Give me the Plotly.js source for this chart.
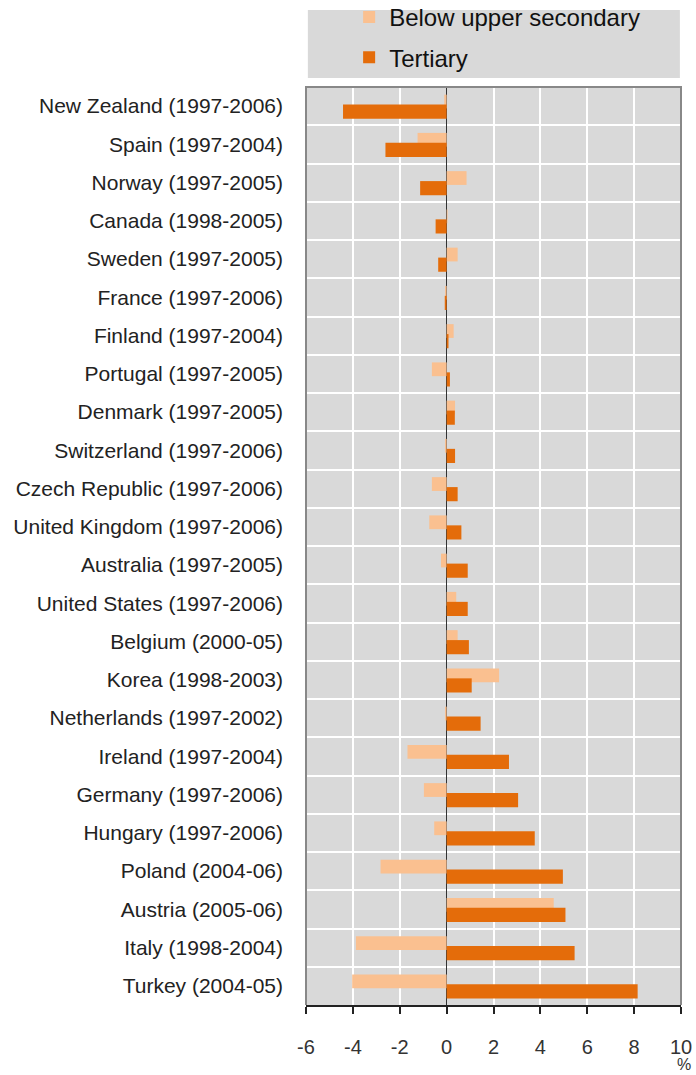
<!DOCTYPE html>
<html>
<head>
<meta charset="utf-8">
<script src="https://cdn.plot.ly/plotly-3.0.1.min.js"></script>
<style>
  html, body { margin: 0; padding: 0; background: #ffffff; }
  #chart { width: 696px; height: 1075px; }
</style>
</head>
<body>
<div id="chart"></div>
<script>
const categories = [
  "New Zealand (1997-2006)", "Spain (1997-2004)", "Norway (1997-2005)", "Canada (1998-2005)",
  "Sweden (1997-2005)", "France (1997-2006)", "Finland (1997-2004)", "Portugal (1997-2005)",
  "Denmark (1997-2005)", "Switzerland (1997-2006)", "Czech Republic (1997-2006)", "United Kingdom (1997-2006)",
  "Australia (1997-2005)", "United States (1997-2006)", "Belgium (2000-05)", "Korea (1998-2003)",
  "Netherlands (1997-2002)", "Ireland (1997-2004)", "Germany (1997-2006)", "Hungary (1997-2006)",
  "Poland (2004-06)", "Austria (2005-06)", "Italy (1998-2004)", "Turkey (2004-05)"
];
const belowUpperSecondary = [
  -0.10, -1.24, 0.85, 0.04, 0.47, -0.07, 0.30, -0.63,
  0.36, -0.07, -0.63, -0.74, -0.24, 0.41, 0.47, 2.24,
  -0.07, -1.67, -0.97, -0.53, -2.82, 4.57, -3.87, -4.03
];
const tertiary = [
  -4.42, -2.61, -1.13, -0.47, -0.36, -0.08, 0.08, 0.14,
  0.35, 0.36, 0.47, 0.63, 0.90, 0.90, 0.95, 1.07,
  1.45, 2.66, 3.05, 3.76, 4.96, 5.07, 5.46, 8.15
];
const xTicks = [-6, -4, -2, 0, 2, 4, 6, 8, 10];

const FONT = "Liberation Sans, Arial, sans-serif";

const traces = [
  {
    type: "bar", orientation: "h", name: "Below upper secondary",
    y: categories, x: belowUpperSecondary,
    offset: -0.30, width: 0.36,
    marker: { color: "#FAC090", line: { width: 0 } },
    legendgroup: "a"
  },
  {
    type: "bar", orientation: "h", name: "Tertiary",
    y: categories, x: tertiary,
    offset: -0.04, width: 0.37,
    marker: { color: "#E46C0A", line: { width: 0 } },
    legendgroup: "b"
  }
];

const layout = {
  width: 696, height: 1075,
  margin: { l: 306, r: 15, t: 87, b: 70, pad: 0, autoexpand: false },
  paper_bgcolor: "#ffffff",
  plot_bgcolor: "#D9D9D9",
  barmode: "overlay",
  font: { family: FONT, color: "#222222" },
  showlegend: true,
  legend: {
    x: 0.115, xanchor: "left",
    y: 1.1002, yanchor: "top",
    bgcolor: "rgba(0,0,0,0)",
    font: { family: FONT, size: 24, color: "#111111" },
    traceorder: "grouped",
    tracegroupgap: 6
  },
  xaxis: {
    range: [-6, 10],
    tickvals: xTicks,
    ticktext: xTicks.map(String),
    showgrid: true, gridcolor: "#ffffff", gridwidth: 2,
    zeroline: true, zerolinecolor: "#333333", zerolinewidth: 1.5,
    showline: true, linecolor: "#222222", linewidth: 2,
    ticks: "outside", ticklen: 7, tickwidth: 2, tickcolor: "#222222",
    ticklabelstandoff: 16,
    tickfont: { family: FONT, size: 20, color: "#333333" },
    fixedrange: true
  },
  yaxis: {
    type: "category",
    autorange: "reversed",
    tickson: "boundaries",
    showgrid: true, gridcolor: "#ffffff", gridwidth: 2,
    showline: false, zeroline: false,
    ticks: "",
    ticklabelstandoff: 22,
    tickfont: { family: FONT, size: 21, color: "#222222" },
    fixedrange: true
  },
  shapes: [
    {
      type: "rect", xref: "paper", yref: "paper",
      x0: 0.005, x1: 0.997, y0: 1.0098, y1: 1.0839,
      fillcolor: "#D9D9D9", line: { width: 0 }, layer: "below"
    },
    {
      type: "path", xref: "paper", yref: "paper",
      path: "M0,0 L0,1 L1,1 L1,0",
      line: { color: "#888888", width: 2 }, layer: "above"
    }
  ],
  annotations: [
    {
      text: "%", xref: "paper", yref: "paper",
      x: 1.008, y: -0.0763, xanchor: "center", yanchor: "bottom",
      showarrow: false,
      font: { family: FONT, size: 16, color: "#333333" }
    }
  ]
};

Plotly.newPlot("chart", traces, layout, { displayModeBar: false, staticPlot: true });
</script>
</body>
</html>
